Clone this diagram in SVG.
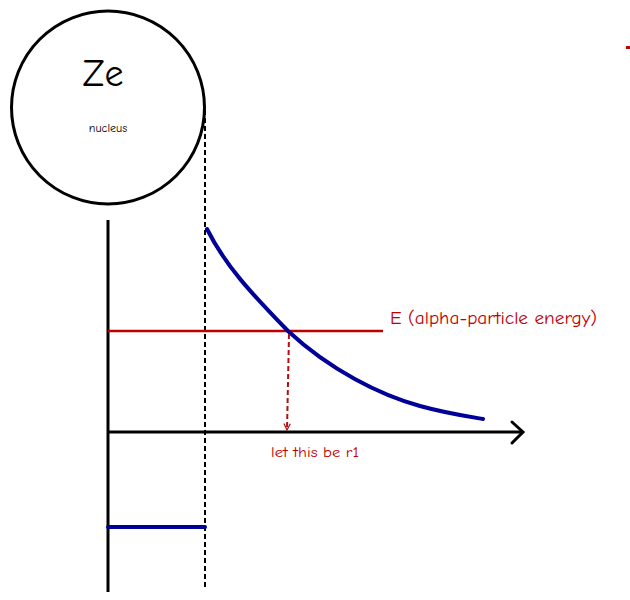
<svg xmlns="http://www.w3.org/2000/svg" width="630" height="600" viewBox="0 0 630 600">
<defs>
<style>
.blk{stroke:#000;fill:none}
.red{stroke:#c00000;fill:none}
.blue{stroke:#000099;fill:none;stroke-width:4;stroke-linecap:round}
.hand{font-family:"Comic Neue","Liberation Sans",sans-serif}
</style>
<marker id="redarrow" viewBox="0 0 10 10" refX="9" refY="5" markerWidth="8" markerHeight="8" orient="auto" markerUnits="userSpaceOnUse">
<path d="M1,1 L9,5 L1,9" fill="none" stroke="#b01010" stroke-width="1.5"/>
</marker>
</defs>
<rect width="630" height="600" fill="#fff"/>
<g id="nucleus">
<circle cx="108" cy="107.5" r="96.5" class="blk" stroke-width="3"/>
<text x="103" y="86" text-anchor="middle" class="hand" font-size="38" fill="#000">Ze</text>
<text x="108" y="132" text-anchor="middle" class="hand" font-size="12" fill="#000">nucleus</text>
</g>
<g id="connectors">
<line x1="205" y1="110" x2="205" y2="590" class="blk" stroke-width="2" stroke-dasharray="5,3"/>
<line x1="108" y1="220" x2="108" y2="592" class="blk" stroke-width="3"/>
<line x1="108" y1="432" x2="522" y2="432" class="blk" stroke-width="3"/>
<path d="M512,422 L523,432 L512,443" class="blk" stroke-width="3" stroke-linecap="round"/>
<line x1="108" y1="331" x2="383" y2="331" class="red" stroke-width="2.5"/>
<path d="M207,229 C225,265 250,292 288,331 C330,370 380,395 420,406 C445,413 465,416 483,419" class="blue"/>
<line x1="108" y1="527" x2="205" y2="527" class="blue" stroke-linecap="butt"/>
<line x1="289" y1="334" x2="287" y2="430" stroke="#b01010" fill="none" stroke-width="2" stroke-dasharray="5,3" marker-end="url(#redarrow)"/>
<rect x="626" y="46" width="4" height="3" fill="#c00000"/>
</g>
<g id="labels">
<text x="390" y="324" class="hand" font-size="19" fill="#c00000" textLength="207" lengthAdjust="spacingAndGlyphs">E (alpha-particle energy)</text>
<text x="271" y="457" class="hand" font-size="14" fill="#c00000" textLength="88" lengthAdjust="spacingAndGlyphs">let this be r1</text>
</g>
</svg>
